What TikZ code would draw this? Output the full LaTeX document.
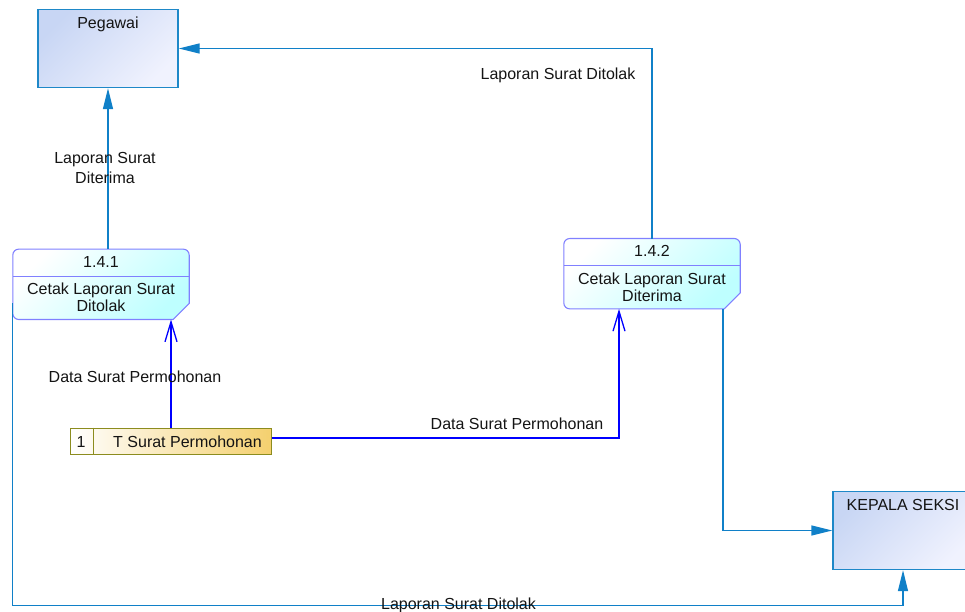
\documentclass[tikz,border=0pt]{standalone}
\usepackage{fontspec}
\setmainfont{Liberation Sans}
\usetikzlibrary{arrows.meta,calc}

\definecolor{flowc}{RGB}{16,128,200}
\definecolor{entline}{RGB}{30,136,200}
\definecolor{entA}{RGB}{200,214,244}
\definecolor{entB}{RGB}{240,242,254}
\definecolor{procline}{RGB}{128,128,255}
\definecolor{procB}{RGB}{190,255,255}
\definecolor{storeline}{RGB}{140,140,30}
\definecolor{storeB}{RGB}{244,208,110}
\definecolor{txt}{RGB}{20,20,20}

% process box: rounded corners, cut lower-right corner, header rule
\newcommand\procdraw[1]{%
  \path[procshape] (#1.west) [rounded corners=6pt] -- (#1.north west) -- (#1.north east)
    -- ($(#1.south east)+(0,-30)$) [sharp corners] -- ($(#1.south east)+(0,-16)$)
    -- ($(#1.south east)+(-16,0)$) -- ($(#1.south east)+(-30,0)$)
    [rounded corners=6pt] -- (#1.south west) -- cycle;
  \draw[draw=procline, line width=1.1pt] ($(#1.north west)+(0,27)$) -- ($(#1.north east)+(0,27)$);}

\begin{document}
\begin{tikzpicture}[x=1pt,y=-1pt,
  font=\fontsize{16}{17}\selectfont,
  entity/.style={draw=entline, line width=1.3pt, top color=entA, bottom color=entB,
    shading angle=45, minimum width=140pt, minimum height=78pt, inner sep=0pt},
  proc/.style={minimum width=176pt, minimum height=70pt, inner sep=0pt},
  procshape/.style={draw=procline, line width=1.1pt, top color=white, bottom color=procB,
    shading angle=45},
  store/.style={draw=storeline, line width=1pt, left color=white, right color=storeB,
    minimum width=201pt, minimum height=26pt, inner sep=0pt},
  flow/.style={draw=flowc, line width=1.3pt, -{Triangle[length=21pt,width=10pt]}},
  dflow/.style={draw=blue, line width=1.3pt, -{Straight Barb[length=20pt,width=12pt]}},
  lbl/.style={anchor=base, text=txt, inner sep=0pt}]

\useasboundingbox (0,0) rectangle (965,612);

% external entities
\node[entity] (peg) at (108,48.5) {};
\node[lbl] (pegt) at ($(peg.north)+(0,19.5)$) {Pegawai};
\node[entity] (ks) at (903,530.5) {};
\node[lbl] (kst) at ($(ks.north)+(0,19.5)$) {KEPALA SEKSI};

% processes
\node[proc] (p1) at (101,284.3) {};
\procdraw{p1}
\node[lbl] (p1n) at ($(p1.north)+(0,18)$) {1.4.1};
\node[lbl] (p1a) at ($(p1.north)+(0,45.5)$) {Cetak Laporan Surat};
\node[lbl] (p1b) at ($(p1.north)+(0,62.5)$) {Ditolak};

\node[proc] (p2) at (652,273.7) {};
\procdraw{p2}
\node[lbl] (p2n) at ($(p2.north)+(0,18)$) {1.4.2};
\node[lbl] (p2a) at ($(p2.north)+(0,45.5)$) {Cetak Laporan Surat};
\node[lbl] (p2b) at ($(p2.north)+(0,62.5)$) {Diterima};

% data store
\node[store] (st) at (171,441) {};
\draw[draw=storeline, line width=1pt] ($(st.north west)+(23,0)$) -- ($(st.south west)+(23,0)$);
\node[lbl] (stn) at ($(st.south west)+(11,-7.5)$) {1};
\node[lbl] (stt) at ($(st.south west)+(117.5,-7.5)$) {T Surat Permohonan};

% data flows
\draw[flow] (p1.north -| peg.south) -- (peg.south);
\draw[flow] (p2.north) |- (peg.east);
\draw[dflow] (st.north) -- (st.north |- p1.south);
\draw[dflow] ([yshift=3pt]st.east) -| ($(p2.south)+(-33,0)$);
\draw[flow] ($(p2.south)+(71,0)$) |- (ks.west);
\draw[flow] ($(p1.west)+(0,19)$) |- ($(ks.south)+(0,35.5)$) -- (ks.south);

% flow labels
\node[lbl] (l1a) at (105,163.5) {Laporan Surat};
\node[lbl] (l1b) at (105,183.5) {Diterima};
\node[lbl] (l2) at (558,79.5) {Laporan Surat Ditolak};
\node[lbl] (l3) at (135,382.5) {Data Surat Permohonan};
\node[lbl] (l4) at (517,429.5) {Data Surat Permohonan};
\node[lbl] (l5) at (458.5,609) {Laporan Surat Ditolak};
\end{tikzpicture}
\end{document}
